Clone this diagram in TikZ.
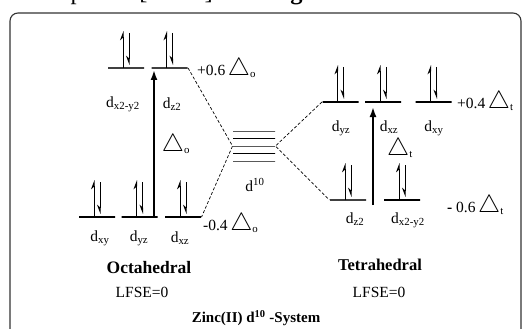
\documentclass[tikz,border=0pt]{standalone}
\usepackage{fontspec}
\setmainfont{Liberation Serif}
\usetikzlibrary{arrows.meta}
\newcommand{\tri}{{\fontsize{24}{24}\selectfont$\bigtriangleup$}}
\newcommand{\spinpair}[1]{%
  \draw[spinup] ([xshift=-3pt]#1.center) -- ++(0,-37);
  \draw[spindown] ([xshift=3pt,yshift=35pt]#1.center) -- ++(0,32);}
\begin{document}
\begin{tikzpicture}[x=1pt,y=-1pt]
\tikzstyle{every node}=[inner sep=0pt, font=\fontsize{15.5}{18}\selectfont]
\tikzstyle{orbital}=[draw, line width=1.1pt, minimum width=36pt, minimum height=0pt, shape=rectangle]
\tikzstyle{spinup}=[-{Stealth[harpoon,length=8pt,width=6pt]}, line width=1pt]
\tikzstyle{spindown}=[-{Stealth[harpoon,swap,length=8pt,width=6pt]}, line width=1pt]
\tikzstyle{corr}=[dash pattern=on 3pt off 2pt, line width=0.7pt]
\tikzstyle{gap}=[-{Latex[length=10pt,width=7pt]}, line width=1.9pt]
\useasboundingbox (0,0) rectangle (522,329);
\node[anchor=base west, font=\fontsize{24.5}{28}\selectfont] (CAP) at (-1,0) {its complexes [31-33]. \textbf{See Figure 6.}};
\draw[rounded corners=8pt, line width=1.1pt, black!80] (10,340) -- (10,13) -- (521,13) -- (521,340);
% octahedral
\node[orbital, black!75] (EG1) at (126,68) {};
\node[orbital, black!75] (EG2) at (169.5,68) {};
\node[orbital] (T1) at (97,217) {};
\node[orbital] (T2) at (139.5,217) {};
\node[orbital] (T3) at (183,217) {};
% free ion
\node[orbital, minimum width=42pt, line width=0.9pt] (C1) at (254,131) {};
\node[orbital, minimum width=42pt, line width=0.9pt] (C2) at (254,138.5) {};
\node[orbital, minimum width=42pt, line width=0.9pt] (C3) at (254,146) {};
\node[orbital, minimum width=42pt, line width=0.9pt] (C4) at (254,153.5) {};
\node[orbital, minimum width=42pt, line width=0.9pt] (C5) at (254,161) {};
% tetrahedral
\node[orbital] (TA) at (340.5,102) {};
\node[orbital] (TB) at (383,102) {};
\node[orbital] (TC) at (433.5,102) {};
\node[orbital, black!75] (TD) at (348,200) {};
\node[orbital] (TE) at (402,200) {};
\foreach \o in {EG1,EG2,T1,T2,T3,TA,TB,TC,TD,TE} {\spinpair{\o}}
\draw[corr] (EG2.east) -- (C3.west) -- (T3.east);
\draw[corr] (TA.west) -- (C3.east) -- (TD.west);
\coordinate (DO1) at (154,216);
\coordinate (DO2) at (154,70);
\coordinate (DT1) at (373,205);
\coordinate (DT2) at (373,107);
\draw[gap] (DO1) -- (DO2);
\draw[gap] (DT1) -- (DT2);
% labels
\node (L1) at (123,104) {d\textsubscript{x2-y2}};
\node (L2) at (172,104) {d\textsubscript{z2}};
\node[anchor=west] (E1) at (197,69) {+0.6\,\tri\textsubscript{o}};
\node (DO) at (176,145) {\tri\textsubscript{o}};
\node (L3) at (100,238) {d\textsubscript{xy}};
\node (L4) at (139,238) {d\textsubscript{yz}};
\node (L5) at (180,238) {d\textsubscript{xz}};
\node[anchor=west] (E2) at (203,224) {-0.4\,\tri\textsubscript{o}};
\node (D10) at (255,185) {d\textsuperscript{10}};
\node[font=\fontsize{17.5}{20}\selectfont\bfseries] (OCT) at (149,268) {Octahedral};
\node (LO) at (142,292) {LFSE=0};
\node (L6) at (341,128) {d\textsubscript{yz}};
\node (L7) at (389,127) {d\textsubscript{xz}};
\node (L8) at (434,128) {d\textsubscript{xy}};
\node[anchor=west] (E3) at (457,102) {+0.4\,\tri\textsubscript{t}};
\node (DT) at (400,149) {\tri\textsubscript{t}};
\node (L9) at (355,219) {d\textsubscript{z2}};
\node (L10) at (408,220) {d\textsubscript{x2-y2}};
\node[anchor=west] (E4) at (447,206) {\textbf{-} 0.6\,\tri\textsubscript{t}};
\node[font=\fontsize{16.5}{20}\selectfont\bfseries] (TET) at (380,265) {Tetrahedral};
\node (LT) at (379,292) {LFSE=0};
\node[font=\fontsize{15}{18}\selectfont\bfseries] (ZN) at (256,318) {Zinc(II) d\textsuperscript{10} -System};
\end{tikzpicture}
\end{document}
